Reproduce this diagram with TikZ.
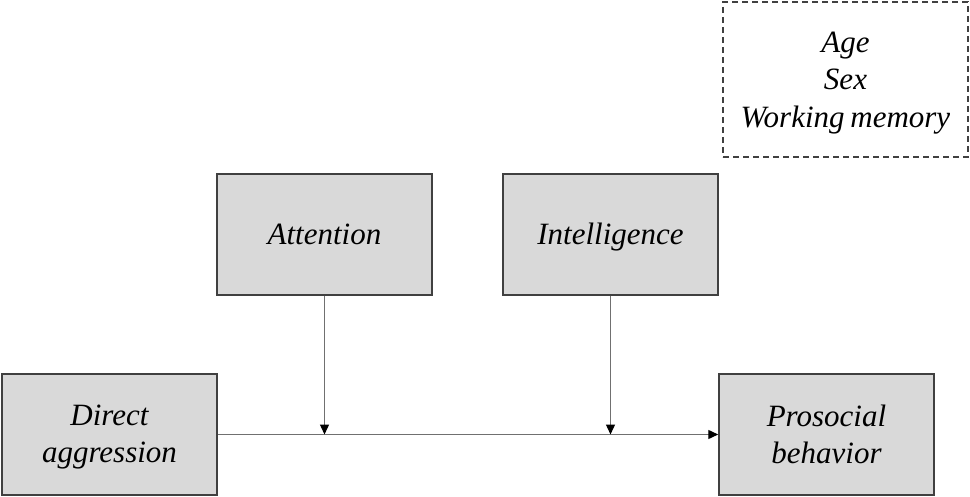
\documentclass[tikz,border=0pt]{standalone}
\usepackage{fontspec}
\setmainfont{Liberation Serif}
\usetikzlibrary{arrows.meta}
\definecolor{boxfill}{HTML}{D9D9D9}
\definecolor{boxline}{HTML}{404040}
\definecolor{linegray}{HTML}{707070}
\tikzset{
  varbox/.style={draw=boxline, line width=1.5pt, fill=boxfill, minimum width=215pt, minimum height=121pt, inner sep=0pt, align=center, font=\fontsize{31}{37}\selectfont\itshape},
  oneline/.style={text height=20.5pt, text depth=0pt},
  conn/.style={draw=linegray, line width=1.4pt, -{Triangle[length=10pt,width=9pt,color=black]}}
}
\begin{document}
\begin{tikzpicture}[x=1pt,y=-1pt]
\useasboundingbox (0,0) rectangle (970,497);
\node[draw=boxline, line width=1.3pt, dashed, dash pattern=on 6pt off 4pt, minimum width=245pt, minimum height=155pt, inner sep=0pt, align=center, font=\fontsize{31}{37.5}\selectfont\itshape] (cov) at (845.5,79.5) {\raisebox{-3pt}[\height][\depth]{\begin{tabular}{@{}c@{}}Age\\Sex\\Working\hspace{-2pt} memory\end{tabular}}};
\node[varbox, oneline] (att) at (324.5,234.5) {Attention};
\node[varbox, oneline] (int) at (610.5,234.5) {Intelligence};
\node[varbox] (da) at (109.5,434.5) {\raisebox{-2pt}[\height][\depth]{\begin{tabular}{@{}c@{}}Direct\\aggression\end{tabular}}};
\node[varbox] (pb) at (826.5,434.5) {Prosocial\\behavior};
\draw[conn] (da.east) -- (pb.west);
\coordinate (m1) at (att.south |- da.east);
\coordinate (m2) at (int.south |- da.east);
\draw[conn] (att.south) -- (m1);
\draw[conn] (int.south) -- (m2);
\end{tikzpicture}
\end{document}
